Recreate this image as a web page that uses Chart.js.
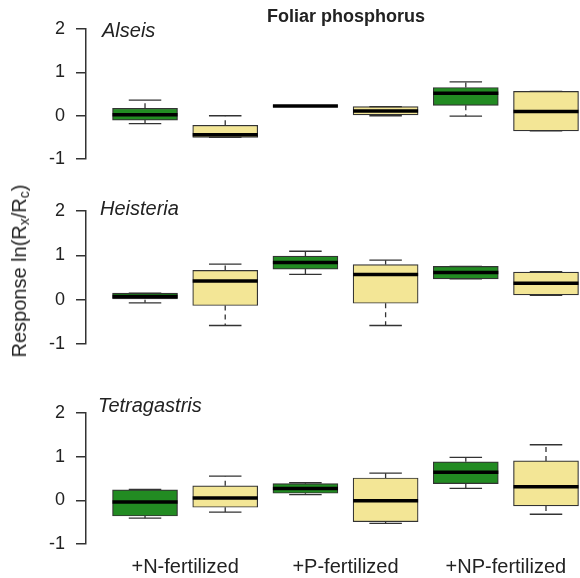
<!DOCTYPE html>
<html>
<head>
<meta charset="utf-8">
<script src="https://cdn.jsdelivr.net/npm/chart.js@4/dist/chart.umd.min.js"></script>
<style>
  body { margin: 0; background: #fff; }
  #wrap { position: relative; width: 580px; height: 578px; overflow: hidden; font-family: "Liberation Sans", Arial, sans-serif; color: #222; }
  canvas { position: absolute; left: 0; }
  .lbl { position: absolute; white-space: nowrap; line-height: 1; }
  .species { font-size: 20px; font-style: italic; }
  #title { font-size: 18px; font-weight: bold; left: 267px; top: 7px; }
  #ytitle { font-size: 20px; left: 19px; top: 271px; transform: translate(-50%, -50%) rotate(-90deg); }
  #ytitle sub { font-size: 14px; vertical-align: -3px; line-height: 0; }
</style>
</head>
<body>
<div id="wrap">
  <canvas id="p1" width="580" height="174" style="top:7px"></canvas>
  <canvas id="p2" width="580" height="177" style="top:189px"></canvas>
  <canvas id="p3" width="580" height="187" style="top:391px"></canvas>
  <div class="lbl" id="title">Foliar phosphorus</div>
  <div class="lbl species" style="left:102px; top:20px">Alseis</div>
  <div class="lbl species" style="left:100px; top:198px">Heisteria</div>
  <div class="lbl species" style="left:98px; top:395px">Tetragastris</div>
  <div class="lbl" id="ytitle">Response ln(R<sub>x</sub>/R<sub>c</sub>)</div>
</div>
<script>
// treatments along the x axis
const treatments = ['+N-fertilized', '+P-fertilized', '+NP-fertilized'];
const yTicks = [-1, 0, 1, 2];

// box stats per treatment: [lower whisker, q1, median, q3, upper whisker]
const alseisGreen = [[-0.18, -0.10, 0.02, 0.17, 0.36], [0.22, 0.22, 0.225, 0.23, 0.23], [-0.01, 0.24, 0.52, 0.65, 0.78]];
const alseisYellow = [[-0.50, -0.50, -0.44, -0.22, 0.00], [0.00, 0.00, 0.11, 0.21, 0.21], [-0.35, -0.35, 0.10, 0.56, 0.56]];

const heisteriaGreen = [[-0.07, 0.00, 0.07, 0.15, 0.15], [0.57, 0.69, 0.84, 0.98, 1.09], [0.47, 0.47, 0.61, 0.75, 0.75]];
const heisteriaYellow = [[-0.58, -0.13, 0.42, 0.66, 0.80], [-0.58, -0.08, 0.57, 0.79, 0.89], [0.10, 0.11, 0.37, 0.62, 0.63]];

const tetragastrisGreen = [[-0.41, -0.36, -0.04, 0.24, 0.25], [0.13, 0.16, 0.27, 0.38, 0.40], [0.27, 0.38, 0.64, 0.88, 0.98]];
const tetragastrisYellow = [[-0.27, -0.16, 0.05, 0.33, 0.55], [-0.53, -0.49, -0.01, 0.51, 0.62], [-0.32, -0.13, 0.31, 0.90, 1.27]];

const GREEN = '#228B22';
const YELLOW = '#F3E696';
const INK = '#333333';

// whiskers, staples and medians on top of the floating bars
const boxPlugin = {
    id: 'boxWhiskers',
    afterDatasetsDraw(chart) {
        const ctx = chart.ctx;
        const y = chart.scales.y;
        chart.data.datasets.forEach((ds, di) => {
            const meta = chart.getDatasetMeta(di);
            meta.data.forEach((bar, i) => {
                const [lo, q1, med, q3, hi] = ds.stats[i];
                const cx = bar.x;
                const w = bar.width;
                const cap = w / 4;
                ctx.save();
                ctx.strokeStyle = INK;
                ctx.lineWidth = 1.3;
                ctx.setLineDash([5, 4]);
                ctx.beginPath();
                ctx.moveTo(cx, y.getPixelForValue(q3));
                ctx.lineTo(cx, y.getPixelForValue(hi));
                ctx.moveTo(cx, y.getPixelForValue(q1));
                ctx.lineTo(cx, y.getPixelForValue(lo));
                ctx.stroke();
                ctx.setLineDash([]);
                ctx.beginPath();
                ctx.moveTo(cx - cap, y.getPixelForValue(hi));
                ctx.lineTo(cx + cap, y.getPixelForValue(hi));
                ctx.moveTo(cx - cap, y.getPixelForValue(lo));
                ctx.lineTo(cx + cap, y.getPixelForValue(lo));
                ctx.stroke();
                ctx.strokeStyle = '#000';
                ctx.lineWidth = 3.5;
                ctx.beginPath();
                ctx.moveTo(cx - w / 2, y.getPixelForValue(med));
                ctx.lineTo(cx + w / 2, y.getPixelForValue(med));
                ctx.stroke();
                ctx.restore();
            });
        });
    }
};

function boxDataset(stats, offset, color) {
    return {
        data: stats.map((s, i) => ({ x: 2 * i + offset, y: [s[1], s[3]] })),
        stats: stats,
        backgroundColor: color,
        borderColor: INK,
        borderWidth: 1.2,
        borderSkipped: false,
        barThickness: 65,
        grouped: false
    };
}

function makePanel(id, greenStats, yellowStats, showX) {
    const ctx = document.getElementById(id).getContext('2d');
    new Chart(ctx, {
        type: 'bar',
        data: {
            datasets: [boxDataset(greenStats, 1, GREEN), boxDataset(yellowStats, 2, YELLOW)]
        },
        options: {
            responsive: false,
            animation: false,
            layout: { padding: { top: 20, bottom: showX ? 0 : 17, left: 0, right: 0 } },
            plugins: { legend: { display: false }, tooltip: { enabled: false } },
            scales: {
                x: {
                    type: 'linear',
                    min: 0.264,
                    max: 6.424,
                    offset: false,
                    display: showX,
                    grid: { display: false, offset: false, drawTicks: false },
                    border: { display: false },
                    afterBuildTicks: scale => {
                        scale.ticks = [1.5, 3.5, 5.5].map(v => ({ value: v }));
                    },
                    afterFit: scale => { if (showX) scale.height = 34; },
                    ticks: {
                        autoSkip: false,
                        maxRotation: 0,
                        padding: 11,
                        color: '#222',
                        font: { family: '"Liberation Sans", Arial, sans-serif', size: 20 },
                        callback: (value, index) => treatments[index]
                    }
                },
                y: {
                    min: -1,
                    max: 2,
                    afterBuildTicks: scale => {
                        scale.ticks = yTicks.map(v => ({ value: v }));
                    },
                    afterFit: scale => { scale.width = 86; },
                    grid: { drawOnChartArea: false, drawTicks: true, tickLength: 10, color: INK, lineWidth: 1.5 },
                    border: { display: true, color: INK, width: 1.5 },
                    ticks: {
                        padding: 11,
                        color: '#222',
                        font: { family: '"Liberation Sans", Arial, sans-serif', size: 18 },
                        callback: v => String(v)
                    }
                }
            }
        },
        plugins: [boxPlugin]
    });
}

makePanel('p1', alseisGreen, alseisYellow, false);
makePanel('p2', heisteriaGreen, heisteriaYellow, false);
makePanel('p3', tetragastrisGreen, tetragastrisYellow, true);
</script>
</body>
</html>
